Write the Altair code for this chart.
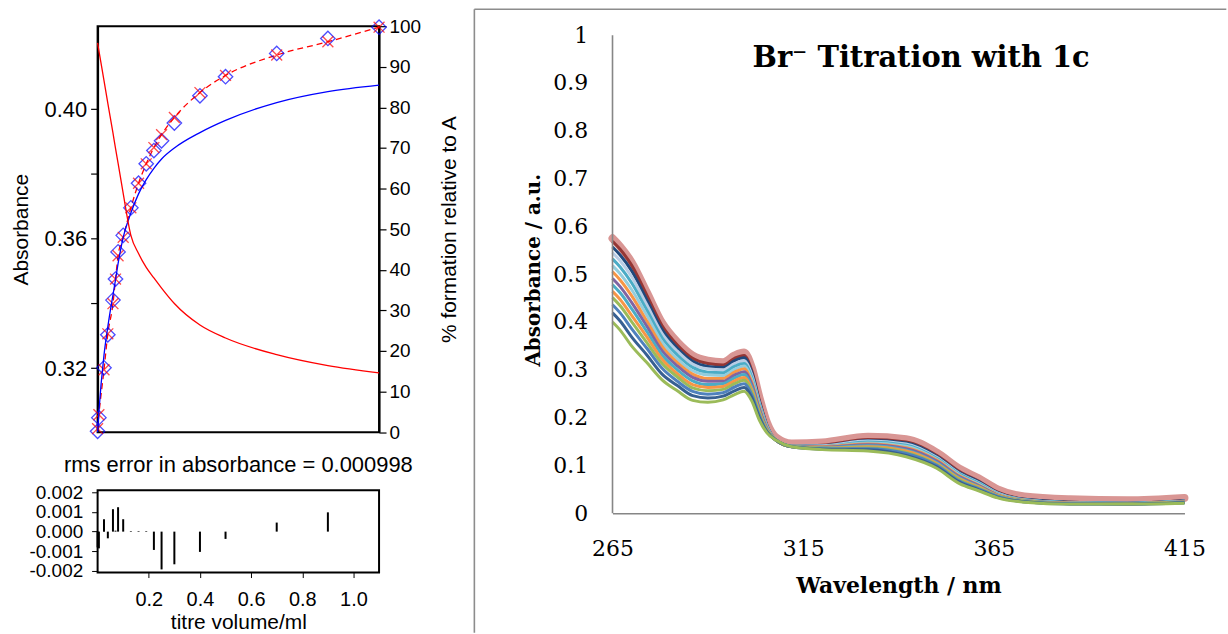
import altair as alt
import pandas as pd

# ---------------- left panel data (titration fit) ----------------
titre = [0, 0.005, 0.025, 0.04, 0.06, 0.07, 0.08, 0.1, 0.13, 0.16, 0.19, 0.22, 0.25, 0.3, 0.4, 0.5, 0.7, 0.9, 1.1]
abs_obs = [0.3005, 0.3047, 0.3201, 0.3303, 0.3410, 0.3475, 0.3559, 0.3610, 0.3695, 0.3771, 0.3831,
           0.3872, 0.3902, 0.3957, 0.4041, 0.4100, 0.4172, 0.4218, 0.4253]
abs_calc = [0.3013, 0.3056, 0.3195, 0.3306, 0.3399, 0.3475, 0.3547, 0.3604, 0.3695, 0.3771, 0.3831,
            0.3881, 0.3921, 0.3974, 0.4051, 0.4104, 0.4167, 0.4208, 0.4253]
residual = [-0.0008, -0.00085, 0.00063, -0.00034, 0.00114, 0.00005, 0.00124, 0.00063, 0.00003, 0.00003,
            0.00003, -0.00093, -0.00192, -0.00166, -0.00103, -0.00037, 0.00046, 0.00098, 0.0]
pct_complex = [0, 5, 19, 26, 33.8, 37.5, 41.5, 48, 54, 58.7, 62.2, 65, 67.3, 70, 73.8, 76.8, 81.2, 83.9, 85.5]
pct_free = [95.9, 94.0, 86.6, 81.0, 73.7, 69.9, 66.3, 58.8, 48.5, 44.0, 40.6, 38.0, 35.5, 31.7, 26.4, 23.2, 19.1, 16.4, 14.6]

abs_ticks = [0.32, 0.34, 0.36, 0.38, 0.40]
pct_ticks = [0, 10, 20, 30, 40, 50, 60, 70, 80, 90, 100]
resid_ticks = [-0.002, -0.001, 0.0, 0.001, 0.002]
titre_ticks = [0.2, 0.4, 0.6, 0.8, 1.0]

# ---------------- right panel data (UV-vis spectra) ----------------
wavelength = [265, 267, 270, 274, 278, 282, 286, 290, 294, 297, 299.5, 301.5, 303.5, 305.5, 308, 312,
              320, 332, 342, 350, 356, 361, 366, 373, 385, 400, 415]
spec_top = [0.575, 0.558, 0.525, 0.462, 0.398, 0.358, 0.330, 0.319, 0.316, 0.330, 0.336, 0.305, 0.243,
            0.190, 0.158, 0.146, 0.148, 0.160, 0.155, 0.127, 0.093, 0.073, 0.050, 0.035, 0.029, 0.027, 0.032]
spectra = [
    [0.569, 0.552, 0.519, 0.456, 0.392, 0.352, 0.324, 0.313, 0.310, 0.324, 0.330, 0.299, 0.237, 0.184, 0.152, 0.140, 0.142, 0.154, 0.149, 0.121, 0.087, 0.067, 0.044, 0.029, 0.023, 0.021, 0.026],
    [0.557, 0.540, 0.507, 0.446, 0.384, 0.345, 0.318, 0.307, 0.305, 0.319, 0.325, 0.295, 0.234, 0.183, 0.152, 0.140, 0.141, 0.152, 0.147, 0.119, 0.085, 0.066, 0.043, 0.029, 0.023, 0.021, 0.026],
    [0.545, 0.528, 0.495, 0.436, 0.376, 0.339, 0.312, 0.302, 0.300, 0.313, 0.319, 0.290, 0.231, 0.182, 0.152, 0.140, 0.141, 0.151, 0.145, 0.117, 0.083, 0.064, 0.042, 0.028, 0.022, 0.021, 0.025],
    [0.532, 0.515, 0.482, 0.425, 0.367, 0.331, 0.305, 0.295, 0.294, 0.307, 0.313, 0.285, 0.228, 0.181, 0.152, 0.140, 0.140, 0.149, 0.142, 0.115, 0.082, 0.063, 0.041, 0.028, 0.022, 0.021, 0.025],
    [0.518, 0.501, 0.468, 0.414, 0.358, 0.323, 0.298, 0.289, 0.288, 0.301, 0.308, 0.280, 0.224, 0.179, 0.152, 0.140, 0.139, 0.147, 0.140, 0.113, 0.080, 0.061, 0.040, 0.027, 0.022, 0.020, 0.025],
    [0.505, 0.488, 0.455, 0.402, 0.349, 0.315, 0.291, 0.282, 0.282, 0.295, 0.302, 0.275, 0.221, 0.178, 0.152, 0.140, 0.139, 0.145, 0.137, 0.111, 0.078, 0.059, 0.039, 0.027, 0.021, 0.020, 0.024],
    [0.491, 0.474, 0.441, 0.391, 0.340, 0.308, 0.284, 0.276, 0.276, 0.289, 0.296, 0.270, 0.218, 0.177, 0.152, 0.140, 0.138, 0.143, 0.135, 0.109, 0.076, 0.058, 0.038, 0.026, 0.021, 0.020, 0.024],
    [0.478, 0.461, 0.428, 0.380, 0.331, 0.300, 0.277, 0.269, 0.271, 0.283, 0.290, 0.264, 0.214, 0.175, 0.152, 0.140, 0.137, 0.141, 0.132, 0.106, 0.074, 0.056, 0.037, 0.026, 0.021, 0.020, 0.023],
    [0.464, 0.447, 0.414, 0.369, 0.322, 0.292, 0.269, 0.263, 0.265, 0.277, 0.284, 0.259, 0.211, 0.174, 0.152, 0.139, 0.136, 0.139, 0.130, 0.104, 0.072, 0.055, 0.037, 0.025, 0.021, 0.020, 0.023],
    [0.451, 0.434, 0.401, 0.357, 0.313, 0.285, 0.262, 0.256, 0.259, 0.271, 0.278, 0.254, 0.208, 0.173, 0.152, 0.139, 0.136, 0.137, 0.127, 0.102, 0.070, 0.053, 0.036, 0.025, 0.020, 0.020, 0.023],
    [0.436, 0.419, 0.386, 0.345, 0.303, 0.276, 0.255, 0.249, 0.252, 0.264, 0.271, 0.248, 0.204, 0.171, 0.152, 0.139, 0.135, 0.135, 0.125, 0.100, 0.067, 0.051, 0.035, 0.024, 0.020, 0.019, 0.022],
    [0.419, 0.402, 0.369, 0.331, 0.291, 0.267, 0.246, 0.241, 0.245, 0.256, 0.263, 0.242, 0.200, 0.170, 0.152, 0.139, 0.134, 0.133, 0.121, 0.097, 0.065, 0.049, 0.033, 0.024, 0.019, 0.019, 0.022],
    [0.400, 0.383, 0.350, 0.315, 0.279, 0.256, 0.236, 0.232, 0.237, 0.248, 0.255, 0.235, 0.195, 0.168, 0.152, 0.139, 0.133, 0.130, 0.118, 0.094, 0.062, 0.047, 0.032, 0.023, 0.019, 0.019, 0.021],
]
spec_colors = ["#953735", "#1F497D", "#B9CDE5", "#4BACC6", "#93CDDD", "#F79646", "#8064A2",
               "#4BACC6", "#F79646", "#9BBB59", "#4F81BD", "#376092", "#9BBB59"]
abs_ticks_r = [0, 0.1, 0.2, 0.3, 0.4, 0.5, 0.6, 0.7, 0.8, 0.9, 1.0]
wl_ticks = [265, 315, 365, 415]

LF = "Liberation Sans"
RF = "DejaVu Serif"

fit = pd.DataFrame(dict(titre=titre, obs=abs_obs, calc=abs_calc, resid=residual,
                        cplx=pct_complex, free=pct_free))

x_scale = alt.Scale(domain=[0, 1.1], nice=False, zero=False)
abs_scale = alt.Scale(domain=[0.3002, 0.4256], nice=False, zero=False)
pct_scale = alt.Scale(domain=[0, 100], nice=False, zero=False)

abs_axis = alt.Axis(title="Absorbance", orient="left", values=abs_ticks, grid=False,
                    labelExpr="(round(datum.value*100) % 4 == 0) ? format(datum.value, '.2f') : ''",
                    labelFont=LF, labelFontSize=22, labelColor="black", labelPadding=4,
                    tickSize=7, tickColor="black", tickWidth=1.2,
                    domainColor="black", domainWidth=2,
                    titleFont=LF, titleFontSize=21, titleFontWeight="normal", titleColor="black",
                    titlePadding=13)
pct_axis = alt.Axis(title="% formation relative to A", orient="right", values=pct_ticks, grid=False,
                    labelFont=LF, labelFontSize=19, labelColor="black", labelPadding=3,
                    tickSize=7, tickColor="black", tickWidth=1.2,
                    domainColor="black", domainWidth=2,
                    titleFont=LF, titleFontSize=21, titleFontWeight="normal", titleColor="black",
                    titleAngle=270, titleBaseline="top", titlePadding=18)

xe = alt.X("titre:Q", scale=x_scale, axis=None)
base = alt.Chart(fit)

calc_line = base.mark_line(color="red", strokeDash=[6, 4], strokeWidth=1.3, interpolate="monotone").encode(
    x=xe, y=alt.Y("calc:Q", scale=abs_scale, axis=abs_axis))
diamonds = base.mark_point(shape="diamond", size=210, filled=False, color="#0000FF", strokeWidth=1.3).encode(
    x=xe, y=alt.Y("obs:Q", scale=abs_scale, axis=abs_axis))
crosses = base.mark_point(shape="M-1,-1L1,1M-1,1L1,-1", size=120, filled=False, color="red", strokeWidth=1.3).encode(
    x=xe, y=alt.Y("calc:Q", scale=abs_scale, axis=abs_axis))
spacer = alt.Chart(pd.DataFrame({"k": [0]})).mark_rule(color="white", strokeWidth=1).encode(
    x=alt.value(5), x2=alt.value(6), y=alt.value(-17))

abs_layers = alt.layer(calc_line, diamonds, crosses, spacer)

cplx_line = base.mark_line(color="#0000FF", strokeWidth=1.3, interpolate="monotone").encode(
    x=xe, y=alt.Y("cplx:Q", scale=pct_scale, axis=pct_axis))
free_line = base.mark_line(color="red", strokeWidth=1.3, interpolate="monotone").encode(
    x=xe, y=alt.Y("free:Q", scale=pct_scale, axis=pct_axis))
pct_layers = alt.layer(cplx_line, free_line)

top = alt.layer(abs_layers, pct_layers).resolve_scale(y="independent").properties(
    width=282.6, height=407.7, view=alt.ViewBackground(stroke="black", strokeWidth=2))

resid = base.mark_rule(color="black", strokeWidth=2).encode(
    x=alt.X("titre:Q", scale=x_scale,
            axis=alt.Axis(values=titre_ticks, format=".1f", title="titre volume/ml", grid=False,
                          labelFont=LF, labelFontSize=20, labelColor="black", labelPadding=12,
                          tickSize=5, tickColor="black", domain=False, labelFlush=False,
                          titleFont=LF, titleFontSize=21, titleFontWeight="normal", titleColor="black",
                          titlePadding=2)),
    y=alt.Y("resid:Q", scale=alt.Scale(domain=[-0.00208, 0.0021], nice=False, zero=False),
            axis=alt.Axis(values=resid_ticks, title=None, grid=False, labelOverlap=False,
                          labelExpr="replace(format(datum.value, '.3f'), '\u2212', '-')",
                          labelFont=LF, labelFontSize=19, labelColor="black", labelPadding=9,
                          tickSize=6, tickColor="black", domain=False)),
    y2=alt.Y2(datum=0),
).properties(width=282.6, height=82.6,
             title=alt.TitleParams("rms error in absorbance = 0.000998", font=LF, fontSize=22,
                                   fontWeight="normal", color="black", anchor="middle", offset=6),
             view=alt.ViewBackground(stroke="black", strokeWidth=2))

left = alt.vconcat(top, resid, spacing=58, bounds="flush")

# ---------------- right panel ----------------
rows = []
for i, s in enumerate(spectra):
    for w, a in zip(wavelength, s):
        rows.append({"wl": w, "a": a, "sid": f"s{i:02d}"})
spec_df = pd.DataFrame(rows)
top_df = pd.DataFrame({"wl": wavelength, "a": spec_top})
ids = [f"s{i:02d}" for i in range(len(spectra))]

xw = alt.Scale(domain=[265, 415], nice=False, zero=False)
yw = alt.Scale(domain=[0, 1.01875], nice=False, zero=False)
x_axis_r = alt.Axis(values=wl_ticks, title="Wavelength / nm", ticks=False, grid=False, labelFlush=False,
                    labelFont=RF, labelFontSize=22, labelColor="black", labelPadding=25,
                    domainColor="#868686", domainWidth=1.6,
                    titleFont=RF, titleFontSize=22, titleFontWeight="bold", titleColor="black",
                    titlePadding=17)
y_axis_r = alt.Axis(values=abs_ticks_r, title="Absorbance / a.u.", ticks=False, grid=False, domain=False,
                    labelExpr="datum.value == 0 ? '0' : (datum.value > 0.999 ? '1' : format(datum.value, '.1f'))",
                    labelFont=RF, labelFontSize=22, labelColor="black", labelPadding=25,
                    titleFont=RF, titleFontSize=20, titleFontWeight="bold", titleColor="black",
                    titlePadding=9)

xr = alt.X("wl:Q", scale=xw, axis=x_axis_r)
yr = alt.Y("a:Q", scale=yw, axis=y_axis_r)

pink = alt.Chart(top_df).mark_line(color="#D99694", strokeWidth=8, interpolate="monotone",
                                   strokeJoin="round", strokeCap="round").encode(x=xr, y=yr)
lines = alt.Chart(spec_df).mark_line(strokeWidth=3, interpolate="monotone").encode(
    x=xr, y=yr, color=alt.Color("sid:N", scale=alt.Scale(domain=ids, range=spec_colors), legend=None))
yline = alt.Chart(pd.DataFrame({"wl": [265], "y0": [0], "y1": [1]})).mark_rule(
    color="#868686", strokeWidth=1.6).encode(x=alt.X("wl:Q", scale=xw), y=alt.Y("y0:Q", scale=yw), y2="y1:Q")
one = pd.DataFrame({"k": [0]})
title_txt = alt.Chart(one).mark_text(text="Br\u207b Titration with 1c", font=RF, fontWeight="bold",
                                     fontSize=29, align="center", baseline="alphabetic", color="black").encode(
    x=alt.value(309.8), y=alt.value(41))
border_v = alt.Chart(one).mark_rule(color="#8C8C8C", strokeWidth=1.6).encode(
    x=alt.value(-138.7), y=alt.value(-17), y2=alt.value(609))
border_h = alt.Chart(one).mark_rule(color="#8C8C8C", strokeWidth=1.6).encode(
    x=alt.value(-138.7), x2=alt.value(616.3), y=alt.value(-17))

right = alt.layer(border_v, border_h, pink, lines, yline, title_txt).properties(width=574.3, height=489)

chart = alt.hconcat(left, right, spacing=12).properties(
    padding={"left": 9, "top": 6, "right": 0, "bottom": 0}, background="white"
).configure_view(stroke="transparent")

chart.save("out.html", embed_options={"renderer": "svg", "actions": False})
